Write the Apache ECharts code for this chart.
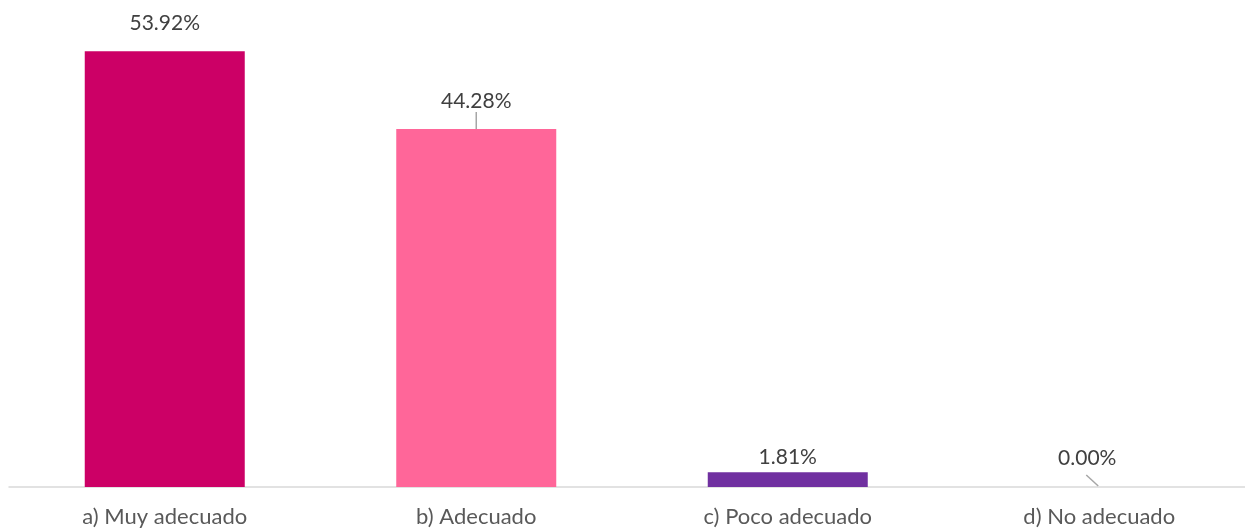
<!DOCTYPE html>
<html>
<head>
<meta charset="utf-8">
<script src="https://cdn.jsdelivr.net/npm/echarts@6/dist/echarts.min.js"></script>
<style>
  html, body { margin: 0; padding: 0; background: #fff; }
  #chart { width: 1245px; height: 529px; }
</style>
</head>
<body>
<div id="chart"></div>
<script>
var categories = ['a) Muy adecuado', 'b) Adecuado', 'c) Poco adecuado', 'd) No adecuado'];
var values = [53.92, 44.28, 1.81, 0.00];
var barColors = ['#cc0066', '#ff6699', '#7030a0', '#7030a0'];

var myChart = echarts.init(document.getElementById('chart'));

// label offsets (Excel moved a couple of labels by hand)
var labelMoves = [
  { dx: 0, dy: -12, line: false },
  { dx: 0, dy: -12, line: true },
  { dx: 0, dy: 0, line: false },
  { dx: -12, dy: -13, line: false }
];

var option = {
  animation: false,
  grid: { left: 9, width: 1246, top: 2, bottom: 42, outerBoundsMode: 'none', containLabel: false },
  xAxis: {
    type: 'category',
    data: categories,
    axisLine: { lineStyle: { color: '#d9d9d9', width: 1.5 } },
    axisTick: { show: false },
    axisLabel: {
      color: '#595959',
      fontFamily: 'Lato',
      fontSize: 22,
      margin: 19
    }
  },
  yAxis: {
    type: 'value',
    min: 0,
    max: 60,
    show: false,
    splitLine: { show: false }
  },
  series: [{
    type: 'bar',
    barWidth: 160,
    data: values.map(function (v, i) {
      return {
        value: v,
        itemStyle: { color: barColors[i] },
        labelLine: { show: labelMoves[i].line }
      };
    }),
    label: {
      show: true,
      position: 'top',
      distance: 5,
      color: '#404040',
      fontFamily: 'Lato',
      fontSize: 21,
      formatter: function (p) { return p.value.toFixed(2) + '%'; }
    },
    labelLine: {
      show: true,
      lineStyle: { color: '#a6a6a6', width: 1.5 }
    },
    labelLayout: function (p) {
      return { dx: labelMoves[p.dataIndex].dx, dy: labelMoves[p.dataIndex].dy };
    }
  }, {
    // slanted leader line for the 0.00% label
    type: 'custom',
    silent: true,
    z: 5,
    data: values.map(function (v, i) { return [i, v]; }),
    renderItem: function (params, api) {
      if (params.dataIndex !== 3) return;
      var p = api.coord([api.value(0), api.value(1)]);
      return {
        type: 'line',
        shape: { x1: p[0] - 13, y1: p[1] - 12, x2: p[0] - 1, y2: p[1] - 1 },
        style: { stroke: '#a6a6a6', lineWidth: 1.5 }
      };
    }
  }]
};

myChart.setOption(option);
</script>
</body>
</html>
